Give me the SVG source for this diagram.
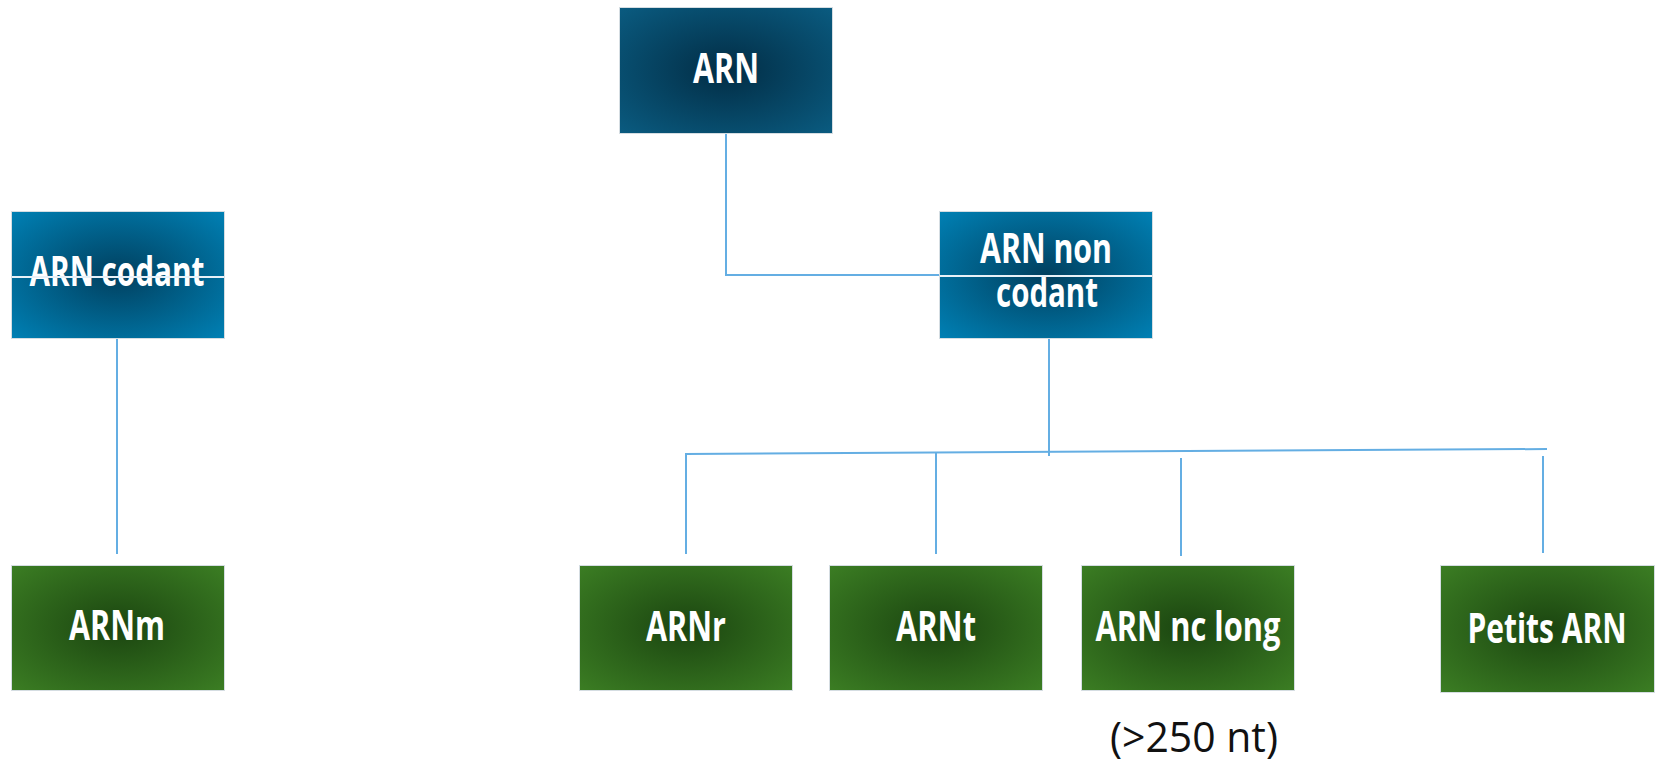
<svg xmlns="http://www.w3.org/2000/svg" width="1660" height="762" viewBox="0 0 1660 762">
  <defs>
    <radialGradient id="gTop" cx="0.5" cy="0.5" r="0.7">
      <stop offset="0" stop-color="#022d45"/>
      <stop offset="1" stop-color="#0a5b80"/>
    </radialGradient>
    <radialGradient id="gBlue" cx="0.5" cy="0.5" r="0.7">
      <stop offset="0" stop-color="#01405f"/>
      <stop offset="1" stop-color="#0080b4"/>
    </radialGradient>
    <radialGradient id="gGreen" cx="0.5" cy="0.5" r="0.7">
      <stop offset="0" stop-color="#1b4510"/>
      <stop offset="1" stop-color="#3b7d23"/>
    </radialGradient>
    <style>
      .box { stroke: #d5dde2; stroke-width: 1; }
      .lbl { font-family: "Open Sans", "Liberation Sans", sans-serif; font-weight: 700; font-size: 41px; fill: #ffffff; text-anchor: middle; }
      .note { font-family: "Open Sans", "Liberation Sans", sans-serif; font-weight: 400; font-size: 42px; fill: #111111; text-anchor: middle; }
      .link { stroke: #64aee3; stroke-width: 2; fill: none; }
      .rule { stroke: #e8f1f8; stroke-width: 2; fill: none; }
    </style>
  </defs>

  <rect width="1660" height="762" fill="#ffffff"/>

  <!-- connectors -->
  <g id="connectors">
    <polyline class="link" points="726,133 726,275 939,275"/>
    <line class="link" x1="117" y1="339" x2="117" y2="554"/>
    <line class="link" x1="1049" y1="339" x2="1049" y2="456"/>
    <line class="link" x1="685" y1="454" x2="1547" y2="449"/>
    <line class="link" x1="686" y1="454" x2="686" y2="554"/>
    <line class="link" x1="936" y1="453" x2="936" y2="554"/>
    <line class="link" x1="1181" y1="458" x2="1181" y2="556"/>
    <line class="link" x1="1543" y1="456" x2="1543" y2="553"/>
  </g>

  <g id="node-arn">
    <rect class="box" x="619.5" y="7.5" width="213" height="126" fill="url(#gTop)"/>
    <text class="lbl" x="726" y="83" textLength="66" lengthAdjust="spacingAndGlyphs">ARN</text>
  </g>

  <g id="node-arn-codant">
    <rect class="box" x="11.5" y="211.5" width="213" height="127" fill="url(#gBlue)"/>
    <text class="lbl" x="117" y="286" textLength="175" lengthAdjust="spacingAndGlyphs">ARN codant</text>
    <line class="rule" x1="12" y1="277" x2="224" y2="277"/>
  </g>

  <g id="node-arn-non-codant">
    <rect class="box" x="939.5" y="211.5" width="213" height="127" fill="url(#gBlue)"/>
    <text class="lbl" x="1046" y="263" textLength="132" lengthAdjust="spacingAndGlyphs">ARN non</text>
    <text class="lbl" x="1047" y="307" textLength="102" lengthAdjust="spacingAndGlyphs">codant</text>
    <line class="rule" x1="940" y1="276" x2="1152" y2="276"/>
  </g>

  <g id="node-arnm">
    <rect class="box" x="11.5" y="565.5" width="213" height="125" fill="url(#gGreen)"/>
    <text class="lbl" x="117" y="640" textLength="96" lengthAdjust="spacingAndGlyphs">ARNm</text>
  </g>

  <g id="node-arnr">
    <rect class="box" x="579.5" y="565.5" width="213" height="125" fill="url(#gGreen)"/>
    <text class="lbl" x="686" y="641" textLength="80" lengthAdjust="spacingAndGlyphs">ARNr</text>
  </g>

  <g id="node-arnt">
    <rect class="box" x="829.5" y="565.5" width="213" height="125" fill="url(#gGreen)"/>
    <text class="lbl" x="936" y="641" textLength="80" lengthAdjust="spacingAndGlyphs">ARNt</text>
  </g>

  <g id="node-arn-nc-long">
    <rect class="box" x="1081.5" y="565.5" width="213" height="125" fill="url(#gGreen)"/>
    <text class="lbl" x="1188" y="641" textLength="185" lengthAdjust="spacingAndGlyphs">ARN nc long</text>
  </g>

  <g id="node-petits-arn">
    <rect class="box" x="1440.5" y="565.5" width="214" height="127" fill="url(#gGreen)"/>
    <text class="lbl" x="1547" y="643" textLength="159" lengthAdjust="spacingAndGlyphs">Petits ARN</text>
  </g>

  <text class="note" x="1194" y="752" textLength="168" lengthAdjust="spacingAndGlyphs">(&gt;250 nt)</text>
</svg>
